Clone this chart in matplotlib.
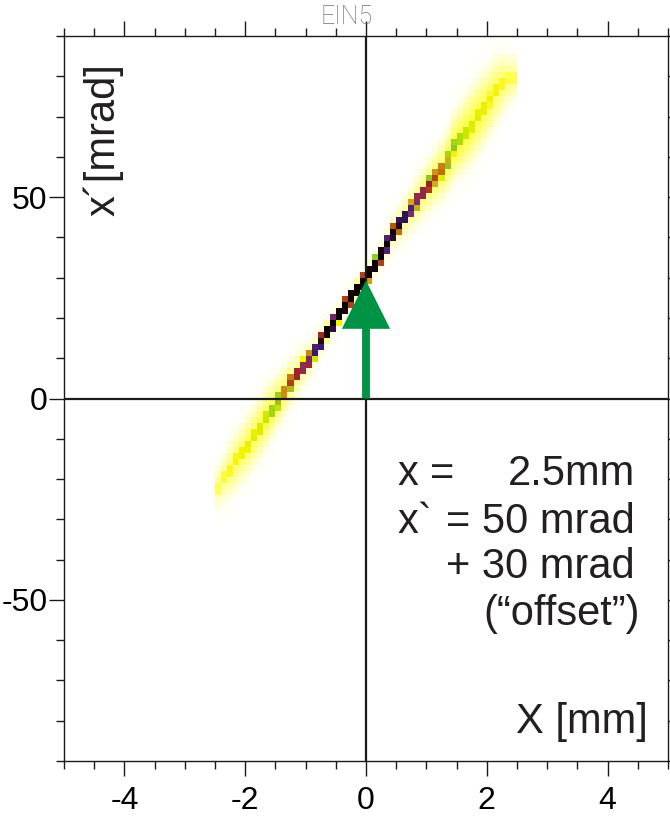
import numpy as np
import matplotlib.pyplot as plt
from matplotlib.colors import LinearSegmentedColormap
from matplotlib.ticker import MultipleLocator

plt.rcParams['font.family'] = ['Liberation Sans', 'DejaVu Sans']
plt.rcParams['axes.unicode_minus'] = False

# Phase-space band: centre line x' (mrad) against x (mm)
band_x = [-2.45, -2.2, -1.9, -1.7, -1.5, -1.2, -0.9, -0.65, -0.35, 0.0,
          0.25, 0.45, 0.75, 1.05, 1.3, 1.45, 1.7, 1.95, 2.2, 2.4]
band_y = [-22.0, -16.5, -10.5, -6.0, -1.8, 5.0, 10.5, 16.5, 23.0, 30.0,
          35.5, 41.0, 47.0, 53.0, 57.5, 62.5, 67.0, 72.0, 77.5, 79.5]
# relative density of the core and of the surrounding halo
band_core = [0.20, 0.26, 0.30, 0.34, 0.43, 0.68, 0.80, 1.0, 1.0, 1.0,
             1.0, 0.96, 0.82, 0.68, 0.56, 0.43, 0.34, 0.30, 0.26, 0.20]
band_halo = [0.12, 0.17, 0.19, 0.20, 0.20, 0.16, 0.12, 0.10, 0.08, 0.08,
             0.09, 0.12, 0.15, 0.18, 0.20, 0.22, 0.22, 0.20, 0.18, 0.14]
band_spread = [4.0, 5.0, 5.0, 5.0, 4.5, 4.0, 3.5, 3.0, 3.0, 3.0,
               3.0, 3.5, 4.0, 4.5, 5.0, 5.5, 6.0, 6.0, 5.5, 4.0]

x_ticks = [-4, -2, 0, 2, 4]
y_ticks = [-50, 0, 50]

# arrow marking the 30 mrad offset
offset_mrad = 30

# histogram bins
xe = np.arange(-5, 5.0001, 0.1)
ye = np.arange(-90, 90.0001, 1.5)
xc = 0.5 * (xe[:-1] + xe[1:])
yc = 0.5 * (ye[:-1] + ye[1:])
X, Y = np.meshgrid(xc, yc)

inside = (xc >= band_x[0] - 0.05) & (xc <= band_x[-1] + 0.05)
centre = np.interp(xc, band_x, band_y)
core = np.interp(xc, band_x, band_core) * inside
halo = np.interp(xc, band_x, band_halo) * inside
spread = np.interp(xc, band_x, band_spread)
d = Y - centre[None, :]
Z = np.maximum(core[None, :] * np.exp(-(np.abs(d) / 2.0) ** 6),
               halo[None, :] * np.exp(-0.5 * (d / spread[None, :]) ** 2))

cmap = LinearSegmentedColormap.from_list('dens', [
    (0.00, '#ffffff'), (0.04, '#fffff2'), (0.10, '#ffffb8'),
    (0.20, '#ffff50'), (0.28, '#f2f200'), (0.36, '#c8e800'),
    (0.44, '#84c820'), (0.52, '#dca818'), (0.60, '#b86010'),
    (0.68, '#a02020'), (0.76, '#883060'), (0.84, '#3c1a70'),
    (0.92, '#200818'), (1.00, '#0a0000')])

fig = plt.figure(figsize=(6.7, 8.18), dpi=100)
ax = fig.add_axes([64 / 670, 1 - 761 / 818, 604 / 670, 725 / 818])

ax.pcolormesh(xe, ye, Z, cmap=cmap, vmin=0, vmax=1, zorder=1)

ax.axvline(0, color='#1a1a1a', lw=1.6, zorder=2)
ax.axhline(0, color='#1a1a1a', lw=1.6, zorder=2)

ax.arrow(0, 0, 0, offset_mrad - 0.7, width=0.13, head_width=0.8,
         head_length=12, length_includes_head=True, color='#009245',
         lw=0, zorder=3)

ax.set_xlim(-5, 5)
ax.set_ylim(-90, 90)
ax.set_xticks(x_ticks)
ax.set_yticks(y_ticks)
ax.xaxis.set_minor_locator(MultipleLocator(0.5))
ax.yaxis.set_minor_locator(MultipleLocator(10))
ax.tick_params(which='both', direction='out', top=True, right=True,
               width=1.0, color='#1a1a1a')
ax.tick_params(which='major', length=11)
ax.tick_params(which='minor', length=5.5)
ax.tick_params(axis='x', which='major', labelsize=23, pad=7)
ax.tick_params(axis='y', which='major', labelsize=23, pad=1)
for s in ax.spines.values():
    s.set_linewidth(1.0)
    s.set_color('#1a1a1a')

ax.text(103 / 670, 1 - 140 / 818, 'x´[mrad]', transform=fig.transFigure,
        rotation=90, ha='center', va='center', fontsize=30, color='#231f20')

fig.text(347 / 670, 1 - 17 / 818, 'EIN5', ha='center', va='center',
         fontsize=18, color='#707070', family='Roboto', fontweight='light')

tc = '#231f20'
def px(x, y):
    return x / 670, 1 - y / 818

ax.text(*px(398, 485), 'x', transform=fig.transFigure, fontsize=30,
        color=tc, ha='left', va='baseline')
ax.text(*px(430, 485), '=', transform=fig.transFigure, fontsize=30,
        color=tc, ha='left', va='baseline')
ax.text(*px(635, 485), '2.5mm', transform=fig.transFigure, fontsize=30,
        color=tc, ha='right', va='baseline')
ax.text(*px(398, 533), 'x`', transform=fig.transFigure, fontsize=30,
        color=tc, ha='left', va='baseline')
ax.text(*px(635, 533), '= 50 mrad', transform=fig.transFigure, fontsize=30,
        color=tc, ha='right', va='baseline')
ax.text(*px(635, 578), '+ 30 mrad', transform=fig.transFigure, fontsize=30,
        color=tc, ha='right', va='baseline')
ax.text(*px(640, 625), '(“offset”)', transform=fig.transFigure, fontsize=30,
        color=tc, ha='right', va='baseline')
ax.text(*px(648, 733), 'X [mm]', transform=fig.transFigure, fontsize=30,
        color=tc, ha='right', va='baseline')

fig.savefig('out.png', dpi=100)
